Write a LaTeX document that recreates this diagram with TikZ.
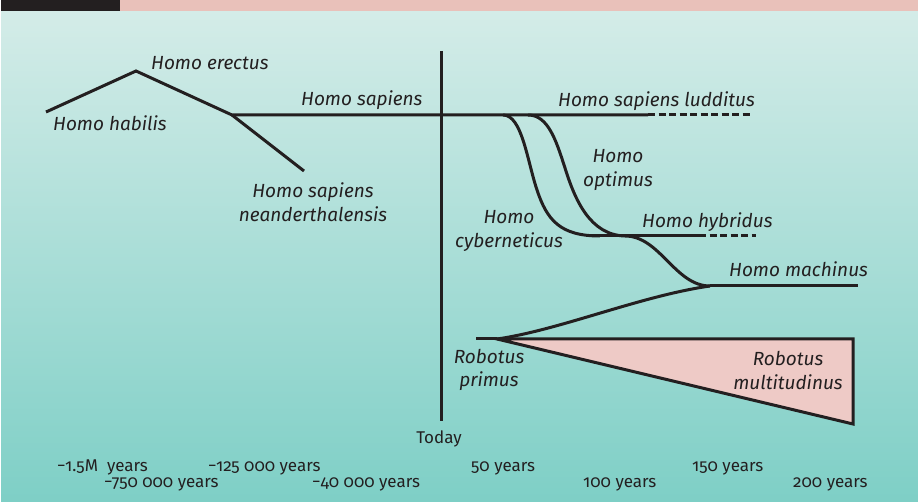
\documentclass[tikz,border=0pt]{standalone}
\usepackage{fontspec}
\setmainfont{Fira Sans}[Numbers=OldStyle]
\definecolor{ink}{HTML}{231F20}
\definecolor{bgtop}{HTML}{D4ECE8}
\definecolor{bgbot}{HTML}{7ECFC6}
\definecolor{barpink}{HTML}{E9C1BA}
\definecolor{tripink}{HTML}{EECAC6}
\begin{document}
\begin{tikzpicture}[x=1pt,y=-1pt,
  lbl/.style={font=\fontsize{19}{24}\selectfont\itshape, text=ink, inner sep=0pt, align=center},
  axl/.style={font=\fontsize{17}{20}\selectfont, text=ink, inner sep=0pt},
  branch/.style={line width=3pt, draw=ink},
  fut/.style={branch, dash pattern=on 7pt off 3.5pt}]
\useasboundingbox (0,0) rectangle (918,502);
% background and header
\shade[top color=bgtop, bottom color=bgbot] (1,11) rectangle (918,502);
\fill[ink] (1,0) rectangle (120,11);
\fill[barpink] (120,0) rectangle (918,11);
% coordinates
\coordinate (hab) at (46,112);
\coordinate (ere) at (136,71);
\coordinate (sap) at (232,115);
\coordinate (nea) at (304,171);
\coordinate (cyb) at (503,115);
\coordinate (opt) at (528,115);
\coordinate (lud) at (648,115);
\coordinate (ludend) at (753,115);
\coordinate (hybs) at (590,236);
\coordinate (hyb) at (699,236);
\coordinate (hybend) at (756,236);
\coordinate (macs) at (625,236);
\coordinate (mac) at (710,286);
\coordinate (macend) at (858,286);
\coordinate (rob0) at (476,339);
\coordinate (rob) at (497,339);
\coordinate (tri1) at (853,339);
\coordinate (tri2) at (853,424);
\coordinate (todtop) at (441,51);
\coordinate (todbot) at (441,421);
% triangle
\filldraw[fill=tripink, branch] (rob) -- (tri1) -- (tri2) -- cycle;
% branches
\draw[branch] (hab) -- (ere) -- (sap) -- (lud);
\draw[branch] (sap) -- (nea);
\draw[fut] (lud) -- (ludend);
\draw[branch] (todtop) -- (todbot);
\draw[branch] (cyb) .. controls (522,115) and (527,160) .. (537,190)
                    .. controls (547,220) and (560,236) .. (600,236);
\draw[branch] (opt) .. controls (548,115) and (556,140) .. (565,168)
                    .. controls (575,200) and (590,235) .. (macs);
\draw[branch] (hybs) -- (hyb);
\draw[fut] (hyb) -- (hybend);
\draw[branch] (macs) .. controls (660,236) and (675,286) .. (mac);
\draw[branch] (mac) -- (macend);
\draw[branch] (rob0) -- (rob);
\draw[branch] (rob) .. controls (560,330) and (640,296) .. (mac);
% labels (multi-line: anchor=base is the last line's baseline)
\node[lbl, anchor=base west] (Lere) at (151,70) {Homo erectus};
\node[lbl, anchor=base west] (Lhab) at (53,131) {Homo habilis};
\node[lbl, anchor=base west] (Lsap) at (301,106) {Homo sapiens};
\node[lbl, anchor=base] (Lnea) at (313,222) {Homo sapiens\\neanderthalensis};
\node[lbl, anchor=base west] (Llud) at (558,107) {Homo sapiens ludditus};
\node[lbl, anchor=base] (Lopt) at (618,187) {Homo\\optimus};
\node[lbl, anchor=base] (Lcyb) at (509,248) {Homo\\cyberneticus};
\node[lbl, anchor=base west] (Lhyb) at (642,228) {Homo hybridus};
\node[lbl, anchor=base west] (Lmac) at (729,277) {Homo machinus};
\node[lbl, anchor=base] (Lrob) at (489,387) {Robotus\\primus};
\node[lbl, anchor=base] (Lmul) at (788,389) {Robotus\\multitudinus};
% axis
\node[axl, anchor=base] (today) at (439,443) {Today};
\node[axl, anchor=base west] (t1) at (57,471) {−1.5M\ \ years};
\node[axl, anchor=base west] (t2) at (104,487) {−750 000 years};
\node[axl, anchor=base west] (t3) at (208,471) {−125 000 years};
\node[axl, anchor=base west] (t4) at (312,487) {−40 000 years};
\node[axl, anchor=base west] (t5) at (471,471) {50 years};
\node[axl, anchor=base west] (t6) at (583,487) {100 years};
\node[axl, anchor=base west] (t7) at (692,471) {150 years};
\node[axl, anchor=base west] (t8) at (793,487) {200 years};
\end{tikzpicture}
\end{document}
